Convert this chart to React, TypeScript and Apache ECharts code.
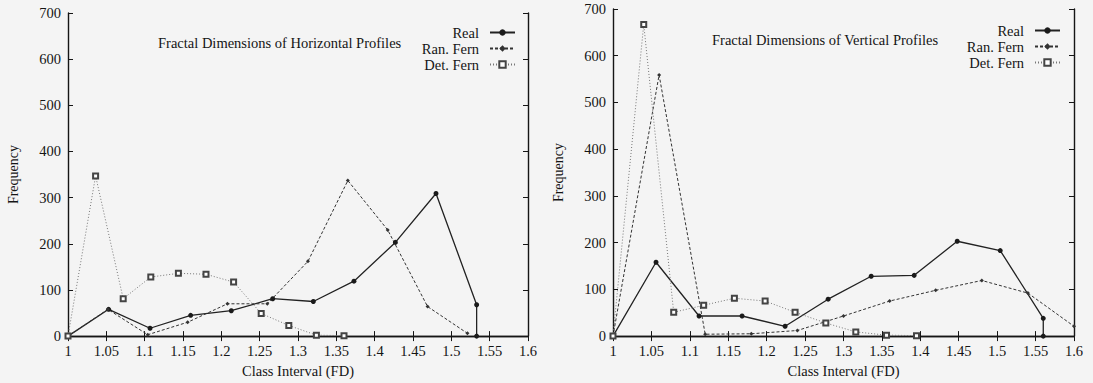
import React, { useEffect, useRef } from "react";
import * as echarts from "echarts";

// Class intervals (FD) and frequencies — horizontal profiles
const hRealX = [1, 1.053, 1.107, 1.16, 1.213, 1.267, 1.32, 1.373, 1.427, 1.48, 1.533, 1.533];
const hRealY = [0, 58, 17, 45, 55, 81, 75, 119, 203, 309, 68, 0];
const hRanX = [1, 1.052, 1.104, 1.156, 1.208, 1.26, 1.313, 1.365, 1.417, 1.469, 1.521];
const hRanY = [0, 58, 3, 30, 70, 70, 162, 337, 230, 64, 6];
const hDetX = [1, 1.036, 1.072, 1.108, 1.144, 1.18, 1.216, 1.252, 1.288, 1.324, 1.36];
const hDetY = [0, 347, 81, 128, 136, 134, 117, 49, 23, 2, 1];

// Class intervals (FD) and frequencies — vertical profiles
const vRealX = [1, 1.056, 1.112, 1.168, 1.224, 1.28, 1.336, 1.392, 1.448, 1.504, 1.56, 1.56];
const vRealY = [0, 158, 43, 43, 21, 79, 128, 130, 203, 183, 38, 0];
const vRanX = [1, 1.06, 1.12, 1.18, 1.24, 1.3, 1.36, 1.42, 1.48, 1.54, 1.6];
const vRanY = [0, 559, 4, 5, 12, 43, 75, 98, 119, 92, 21];
const vDetX = [1, 1.04, 1.079, 1.118, 1.158, 1.198, 1.237, 1.277, 1.316, 1.356, 1.395];
const vDetY = [0, 667, 51, 66, 81, 75, 51, 28, 9, 2, 1];

const seriesNames = ["Real", "Ran. Fern", "Det. Fern"];
const titles = ["Fractal Dimensions of Horizontal Profiles", "Fractal Dimensions of Vertical Profiles"];
const xName = "Class Interval (FD)";
const yName = "Frequency";

const SERIF = "'Liberation Serif', 'Times New Roman', serif";
const INK = "#151515";
const FS = 14.5;

const pairs = (xs: number[], ys: number[]) => xs.map((x, i) => [x, ys[i]]);

const fmtX = (v: number) => String(+v.toFixed(2));

function axesFor(grid: number) {
  const tickIn = { show: true, inside: true, length: 5, lineStyle: { color: INK, width: 1 } };
  const line = { show: true, lineStyle: { color: INK, width: 1.4 } };
  const x = [
    {
      type: "value", gridIndex: grid, position: "bottom", min: 1, max: 1.6, interval: 0.05,
      axisLine: line, axisTick: tickIn, splitLine: { show: false },
      axisLabel: { color: INK, fontFamily: SERIF, fontSize: FS, margin: 7, formatter: fmtX },
      name: xName, nameLocation: "middle", nameGap: 22,
      nameTextStyle: { color: INK, fontFamily: SERIF, fontSize: FS },
    },
    {
      type: "value", gridIndex: grid, position: "top", min: 1, max: 1.6, interval: 0.05,
      axisLine: line, axisTick: tickIn, splitLine: { show: false }, axisLabel: { show: false },
    },
  ];
  const y = [
    {
      type: "value", gridIndex: grid, position: "left", min: 0, max: 700, interval: 100,
      axisLine: line, axisTick: tickIn, splitLine: { show: false },
      axisLabel: { color: INK, fontFamily: SERIF, fontSize: FS, margin: 7 },
      name: yName, nameLocation: "middle", nameGap: 48, nameRotate: 90,
      nameTextStyle: { color: INK, fontFamily: SERIF, fontSize: 14 },
    },
    {
      type: "value", gridIndex: grid, position: "right", min: 0, max: 700, interval: 100,
      axisLine: line, axisTick: tickIn, splitLine: { show: false }, axisLabel: { show: false },
    },
  ];
  return { x, y };
}

function seriesFor(
  grid: number,
  real: number[][],
  ran: number[][],
  det: number[][]
) {
  const xi = grid * 2;
  const yi = grid * 2;
  return [
    {
      name: seriesNames[0], type: "line", xAxisIndex: xi, yAxisIndex: yi, data: real,
      symbol: "circle", symbolSize: 5,
      lineStyle: { color: "#222", width: 1.3, type: "solid" },
      itemStyle: { color: "#1a1a1a" },
    },
    {
      name: seriesNames[1], type: "line", xAxisIndex: xi, yAxisIndex: yi, data: ran,
      symbol: "diamond", symbolSize: 4,
      lineStyle: { color: "#333", width: 1, type: [3, 2] },
      itemStyle: { color: "#333" },
    },
    {
      name: seriesNames[2], type: "line", xAxisIndex: xi, yAxisIndex: yi, data: det,
      symbol: "emptyRect", symbolSize: 5,
      lineStyle: { color: "#777", width: 1, type: [1, 2] },
      itemStyle: { color: "#444", borderWidth: 1.2 },
    },
  ];
}

export default function App() {
  const ref = useRef<HTMLDivElement>(null);

  useEffect(() => {
    if (!ref.current) return;
    const chart = echarts.init(ref.current, undefined, { renderer: "svg" });
    const a0 = axesFor(0);
    const a1 = axesFor(1);
    const legendBase = {
      orient: "vertical", align: "right", itemWidth: 25, itemHeight: 8, itemGap: 1,
      textStyle: { color: INK, fontFamily: SERIF, fontSize: FS, lineHeight: 14, padding: [0, 6, 0, 0] },
      data: seriesNames,
      selectedMode: false,
    };
    chart.setOption({
      animation: false,
      backgroundColor: "#f4f4f4",
      title: [
        { text: titles[0], left: 153, top: 30, textStyle: { color: INK, fontFamily: SERIF, fontSize: FS, fontWeight: "normal" } },
        { text: titles[1], left: 707, top: 27, textStyle: { color: INK, fontFamily: SERIF, fontSize: FS, fontWeight: "normal" } },
      ],
      legend: [
        { ...legendBase, right: 572, top: 20 },
        { ...legendBase, right: 27, top: 18 },
      ],
      grid: [
        { left: 68, top: 13, width: 460, height: 328 },
        { left: 613, top: 9, width: 461, height: 328 },
      ],
      xAxis: [...a0.x, ...a1.x],
      yAxis: [...a0.y, ...a1.y],
      series: [
        ...seriesFor(0, pairs(hRealX, hRealY), pairs(hRanX, hRanY), pairs(hDetX, hDetY)),
        ...seriesFor(1, pairs(vRealX, vRealY), pairs(vRanX, vRanY), pairs(vDetX, vDetY)),
      ],
    });
    return () => chart.dispose();
  }, []);

  return (
    <div
      ref={ref}
      style={{ position: "absolute", left: 0, top: 0, width: 1093, height: 383 }}
    />
  );
}
